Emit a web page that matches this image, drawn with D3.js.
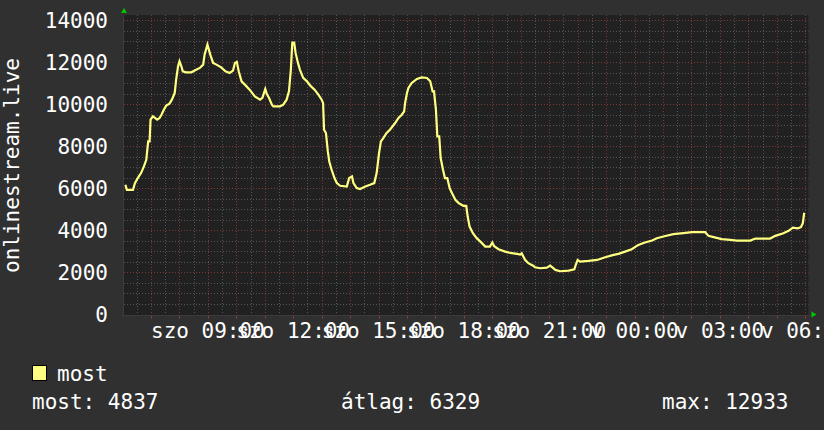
<!DOCTYPE html>
<html><head><meta charset="utf-8">
<script src="https://cdn.jsdelivr.net/npm/d3@7"></script>
<style>body{margin:0;background:#303030}svg{display:block}</style>
</head><body><svg id="c" width="824" height="430"></svg>
<script>
// ---- data ----
const startDay = "2024-03-16"; // Saturday (szo)
const times = ["06:06","06:09","06:22","06:26","06:32","06:39","06:45","06:50","06:54","06:57","06:59","07:04","07:09","07:13","07:18","07:22","07:27","07:32","07:39","07:44","07:50","07:53","07:57","08:00","08:04","08:07","08:14","08:25","08:33","08:43","08:50","08:53","08:59","09:02","09:05","09:11","09:18","09:28","09:37","09:46","09:53","09:57","10:01","10:05","10:11","10:18","10:28","10:39","10:50","10:55","11:01","11:04","11:09","11:15","11:18","11:32","11:39","11:46","11:51","11:55","11:58","12:02","12:05","12:10","12:14","12:21","12:29","12:36","12:45","12:53","13:00","13:03","13:05","13:09","13:13","13:16","13:21","13:27","13:32","13:39","13:53","13:58","14:04","14:07","14:14","14:21","14:32","14:42","14:51","14:56","15:01","15:05","15:10","15:17","15:24","15:35","15:42","15:49","15:54","15:56","16:00","16:03","16:10","16:21","16:31","16:42","16:49","16:54","16:57","17:01","17:04","17:08","17:11","17:16","17:20","17:25","17:30","17:35","17:42","17:49","17:54","17:59","18:05","18:08","18:12","18:19","18:27","18:36","18:45","18:55","19:00","19:04","19:13","19:27","19:41","19:52","19:59","20:02","20:09","20:16","20:27","20:30","20:41","20:55","21:02","21:06","21:13","21:23","21:41","21:53","21:56","22:00","22:05","22:23","22:41","22:58","23:16","23:26","23:40","23:54","00:08","00:22","00:37","00:47","01:05","01:22","01:43","02:01","02:29","02:36","02:47","03:04","03:22","03:36","04:04","04:15","04:46","04:57","05:14","05:25","05:34","05:44","05:51","05:55","05:58"];
const values = [6167,5929,5929,6248,6486,6724,7040,7357,8230,8230,9262,9420,9340,9262,9340,9500,9738,9929,10024,10214,10533,11167,11800,12038,11800,11562,11514,11514,11610,11724,11881,12357,12833,12600,12357,11962,11881,11752,11562,11486,11600,11962,12010,11562,11086,10929,10690,10371,10214,10300,10724,10500,10295,9976,9897,9897,9976,10214,10610,11643,12933,12933,12438,11962,11643,11248,11086,10881,10690,10452,10214,10050,8786,8629,7752,7276,6881,6486,6248,6119,6086,6486,6562,6248,6010,5962,6086,6167,6248,6724,7676,8229,8390,8629,8786,9105,9343,9500,9657,10057,10533,10771,11010,11200,11276,11243,11086,10610,10610,9738,8467,8467,7438,6881,6486,6486,6010,5771,5452,5295,5230,5167,5167,4657,4181,3867,3629,3440,3229,3229,3421,3250,3105,2990,2914,2881,2850,2914,2600,2438,2310,2243,2200,2229,2324,2250,2119,2057,2086,2152,2357,2595,2514,2548,2595,2724,2833,2881,2990,3105,3310,3421,3514,3629,3730,3819,3867,3914,3914,3738,3676,3581,3548,3514,3514,3610,3610,3738,3867,3976,4133,4100,4152,4343,4837];
const yTicks = [0,2000,4000,6000,8000,10000,12000,14000];
const xTickTimes = ["2024-03-16 09:00","2024-03-16 12:00","2024-03-16 15:00","2024-03-16 18:00","2024-03-16 21:00","2024-03-17 00:00","2024-03-17 03:00","2024-03-17 06:00"];
const xTickLabels = ["szo 09:00","szo 12:00","szo 15:00","szo 18:00","szo 21:00","v 00:00","v 03:00","v 06:00"];
const seriesName = "most";
const yTitle = "onlinestream.live";
const statLabels = ["most:","átlag:","max:"];
const statValues = ["4837","6329","12933"];
const domainStart = "2024-03-16 06:03", domainEnd = "2024-03-17 06:07";
const yMax = 14240;

// ---- build ----
const parseFull = d3.timeParse("%Y-%m-%d %H:%M");
let dayOffset = 0, prevMin = -1;
const data = times.map((t, i) => {
  const [h, m] = t.split(":").map(Number);
  const mm = h * 60 + m;
  if (mm < prevMin) dayOffset++;
  prevMin = mm;
  const d = parseFull(startDay + " " + t);
  return { t: d3.timeDay.offset(d, dayOffset), v: values[i] };
});

const L = 124, R = 808.5, T = 15, B = 314.5;
const FONT = "'DejaVu Sans Mono', monospace";
const svg = d3.select("#c");
svg.append("rect").attr("width", 824).attr("height", 430).attr("fill", "#303030");
const x = d3.scaleTime().domain([parseFull(domainStart), parseFull(domainEnd)]).range([L, R]);
const y = d3.scaleLinear().domain([0, yMax]).range([B, T]);

svg.append("rect").attr("x", L).attr("y", T).attr("width", R - L).attr("height", B - T + 1).attr("fill", "#212121");

const g = svg.append("g");
// minor grid
const minorY = d3.range(0, yMax, 500).filter(v => v % 2000 !== 0);
g.selectAll(".mh").data(minorY).join("line")
  .attr("x1", L).attr("x2", R).attr("y1", d => Math.round(y(d)) + 0.5).attr("y2", d => Math.round(y(d)) + 0.5)
  .attr("stroke", "#555").attr("stroke-dasharray", "1,2");
const minorX = d3.timeMinute.every(30).range(x.domain()[0], x.domain()[1]).filter(d => d.getMinutes() !== 0);
g.selectAll(".mv").data(minorX).join("line")
  .attr("y1", T).attr("y2", B).attr("x1", d => Math.round(x(d)) + 0.5).attr("x2", d => Math.round(x(d)) + 0.5)
  .attr("stroke", "#555").attr("stroke-dasharray", "1,2");
// major grid
g.selectAll(".Mh").data(yTicks.filter(v => v > 0)).join("line")
  .attr("x1", L).attr("x2", R).attr("y1", d => Math.round(y(d)) + 0.5).attr("y2", d => Math.round(y(d)) + 0.5)
  .attr("stroke", "#7a3838").attr("stroke-dasharray", "1,2");
const majorX = d3.timeHour.every(1).range(x.domain()[0], x.domain()[1]);
g.selectAll(".Mv").data(majorX).join("line")
  .attr("y1", T).attr("y2", B).attr("x1", d => Math.round(x(d)) + 0.5).attr("x2", d => Math.round(x(d)) + 0.5)
  .attr("stroke", "#7a3838").attr("stroke-dasharray", "1,2");
// axes lines
svg.append("line").attr("x1", L - 3).attr("x2", R + 3).attr("y1", B + 1).attr("y2", B + 1).attr("stroke", "#3a3a3a");
svg.append("line").attr("x1", L - 0.5).attr("x2", L - 0.5).attr("y1", T).attr("y2", B + 3).attr("stroke", "#3a3a3a");
svg.selectAll(".xt").data(majorX).join("line")
  .attr("x1", d => Math.round(x(d)) + 0.5).attr("x2", d => Math.round(x(d)) + 0.5)
  .attr("y1", B + 1).attr("y2", B + 4).attr("stroke", "#8a3a3a");

// series line
svg.append("path").datum(data)
  .attr("fill", "none").attr("stroke", "#ffff80").attr("stroke-width", 2.2)
  .attr("stroke-linejoin", "miter")
  .attr("d", d3.line().x(d => x(d.t)).y(d => y(d.v)));

// arrows
svg.append("path").attr("d", `M${L - 3},13 L${L + 3},13 L${L},8 Z`).attr("fill", "#00c800");
svg.append("path").attr("d", `M${R + 3},${B - 3} L${R + 3},${B + 3} L${R + 8},${B} Z`).attr("fill", "#00c800");

// y tick labels
svg.selectAll(".yl").data(yTicks).join("text")
  .attr("x", 108).attr("y", d => y(d)).attr("dy", "0.36em")
  .attr("text-anchor", "end").attr("fill", "#fff")
  .style("font-family", FONT).style("font-size", "21px")
  .text(d => d);

// x tick labels
svg.selectAll(".xl").data(xTickTimes).join("text")
  .attr("x", d => x(parseFull(d))).attr("y", 338)
  .attr("text-anchor", "middle").attr("fill", "#fff")
  .style("font-family", FONT).style("font-size", "21px")
  .text((d, i) => xTickLabels[i]);

// y title
svg.append("text").attr("transform", "translate(18.5,165.5) rotate(-90)")
  .attr("text-anchor", "middle").attr("fill", "#fff")
  .style("font-family", FONT).style("font-size", "21px")
  .text(yTitle);

// legend
svg.append("rect").attr("x", 32.5).attr("y", 365.5).attr("width", 14).attr("height", 15)
  .attr("fill", "#ffff80").attr("stroke", "#000");
svg.append("text").attr("x", 57).attr("y", 381).attr("fill", "#fff")
  .style("font-family", FONT).style("font-size", "21px").text(seriesName);
const statX = [32, 341, 662];
svg.selectAll(".st").data(statLabels).join("text")
  .attr("x", (d, i) => statX[i]).attr("y", 409).attr("fill", "#fff")
  .style("font-family", FONT).style("font-size", "21px")
  .text((d, i) => d + " " + statValues[i]);
</script>
</body></html>
